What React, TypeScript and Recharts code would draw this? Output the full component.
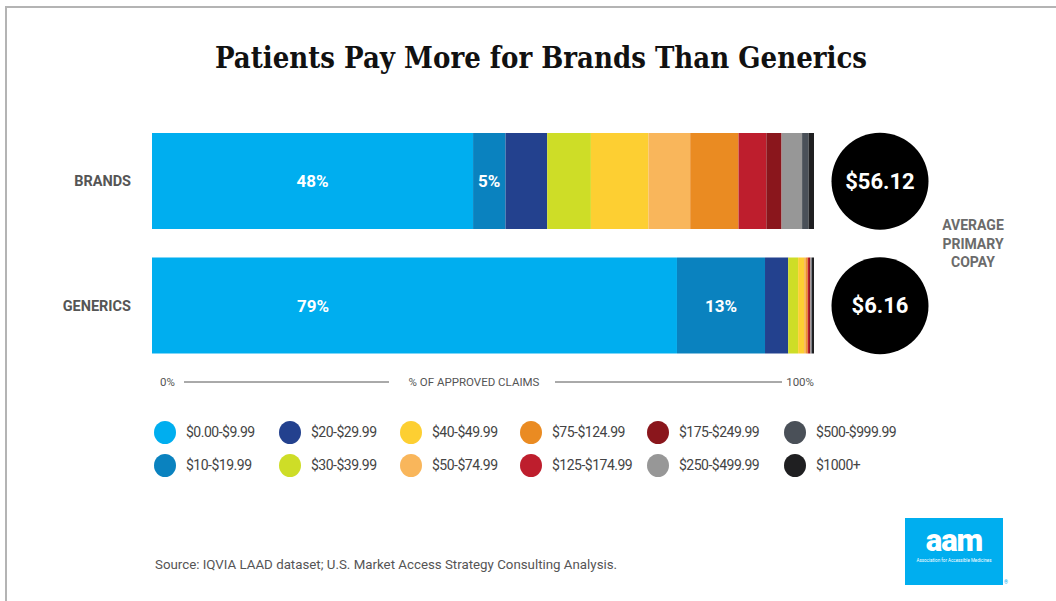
import { BarChart, Bar, XAxis, YAxis, LabelList } from 'recharts';

const categories = ['BRANDS', 'GENERICS'];

const priceBands = [
  '$0.00-$9.99',
  '$10-$19.99',
  '$20-$29.99',
  '$30-$39.99',
  '$40-$49.99',
  '$50-$74.99',
  '$75-$124.99',
  '$125-$174.99',
  '$175-$249.99',
  '$250-$499.99',
  '$500-$999.99',
  '$1000+',
];

const bandColors = [
  '#00aeef',
  '#0a82bf',
  '#23418e',
  '#cedd27',
  '#fdcf32',
  '#f9b65b',
  '#ea8b22',
  '#be1e2d',
  '#8a161c',
  '#979797',
  '#4a5058',
  '#1f1f21',
];

// share of approved claims (%) per price band
const brandShares = [48.5, 4.9, 6.3, 6.6, 8.7, 6.3, 7.3, 4.2, 2.3, 3.1, 1.0, 0.8];
const genericShares = [79.3, 13.3, 3.5, 1.5, 0.9, 0.3, 0.25, 0.2, 0.2, 0.15, 0.1, 0.3];

// printed labels on the two biggest bands
const firstBandLabels = ['48%', '79%'];
const secondBandLabels = ['5%', '13%'];

const avgCopay = ['$56.12', '$6.16'];

const rows = categories.map((name, i) => {
  const shares = i === 0 ? brandShares : genericShares;
  const row: any = { name };
  shares.forEach((v, k) => {
    row['b' + k] = v;
  });
  return row;
});

const narrow = "'Liberation Sans Narrow', 'Roboto', sans-serif";
const roboto = "Roboto, 'Noto Sans', sans-serif";

const CopayTick = (props: any) => {
  const { x, y, index } = props;
  return (
    <g>
      <circle cx={x + 66} cy={y} r={48.5} fill="#000" />
      <text
        x={x + 66}
        y={y}
        textAnchor="middle"
        dominantBaseline="central"
        fill="#fff"
        fontFamily={roboto}
        fontWeight={700}
        fontSize={22}
      >
        {avgCopay[index]}
      </text>
    </g>
  );
};

const CopayCaption = (props: any) => {
  const { viewBox } = props;
  if (!viewBox) return null;
  const cx = viewBox.x + 159;
  const cy = viewBox.y + viewBox.height / 2;
  const lines = ['AVERAGE', 'PRIMARY', 'COPAY'];
  return (
    <g>
      {lines.map((t, i) => (
        <text
          key={t}
          x={cx}
          y={cy + (i - 1) * 18.5}
          textAnchor="middle"
          dominantBaseline="central"
          fill="#6b6b6b"
          fontFamily={roboto}
          fontWeight={700}
          fontSize={14}
        >
          {t}
        </text>
      ))}
    </g>
  );
};

const PctTick = (props: any) => {
  const { x, y, payload } = props;
  const first = payload.value === 0;
  return (
    <text
      x={first ? x + 8 : x}
      y={y}
      textAnchor={first ? 'start' : 'end'}
      dominantBaseline="central"
      fill="#555"
      fontFamily={narrow}
      fontSize={11.5}
    >
      {payload.value}%
    </text>
  );
};

const AxisCaption = (props: any) => {
  const { viewBox } = props;
  if (!viewBox) return null;
  const y = viewBox.y + 14;
  const x = viewBox.x;
  return (
    <g>
      <line x1={x + 32} x2={x + 237} y1={y} y2={y} stroke="#555" strokeWidth={1} />
      <text
        x={x + 322}
        y={y}
        textAnchor="middle"
        dominantBaseline="central"
        fill="#555"
        fontFamily={narrow}
        fontSize={11.5}
      >
        % OF APPROVED CLAIMS
      </text>
      <line x1={x + 403} x2={x + 630} y1={y} y2={y} stroke="#555" strokeWidth={1} />
    </g>
  );
};

const segLabel = (labels: string[], capHalf: boolean) => (p: any) => {
  const { x, y, width, height, index } = p;
  const dx = capHalf ? Math.min(width / 2, 161) : width / 2;
  return (
    <text
      x={x + dx}
      y={y + height / 2}
      textAnchor="middle"
      dominantBaseline="central"
      fill="#fff"
      fontFamily={roboto}
      fontWeight={700}
      fontSize={17}
    >
      {labels[index]}
    </text>
  );
};

export default function App() {
  return (
    <div
      style={{
        position: 'absolute',
        left: 0,
        top: 0,
        width: 1056,
        height: 601,
        overflow: 'hidden',
        background: '#fff',
      }}
    >
      <div
        style={{
          position: 'absolute',
          left: 5,
          top: 6,
          width: 1200,
          height: 800,
          border: '2px solid #b4b4b4',
        }}
      />
      <div
        style={{
          position: 'absolute',
          left: 13,
          width: 1056,
          top: 38,
          textAlign: 'center',
          fontFamily: "'DejaVu Serif Condensed', 'DejaVu Serif', serif",
          fontWeight: 700,
          fontSize: 29,
          color: '#111',
          lineHeight: '40px',
        }}
      >
        Patients Pay More for Brands Than Generics
      </div>

      <div style={{ position: 'absolute', left: 0, top: 0 }}>
        <BarChart
          width={1056}
          height={601}
          data={rows}
          layout="vertical"
          margin={{ top: 119, right: 0, left: 0, bottom: 203 }}
          barSize={96}
        >
          <XAxis
            type="number"
            domain={[0, 100]}
            ticks={[0, 100]}
            axisLine={false}
            tickLine={false}
            tickSize={0}
            tickMargin={14}
            height={30}
            tick={<PctTick />}
            label={<AxisCaption />}
          />
          <YAxis
            yAxisId="l"
            type="category"
            dataKey="name"
            width={152}
            axisLine={false}
            tickLine={false}
            tickSize={0}
            tickMargin={21}
            tick={{ fill: '#555', fontFamily: roboto, fontWeight: 700, fontSize: 14.5 }}
          />
          <YAxis
            yAxisId="r"
            orientation="right"
            type="category"
            dataKey="name"
            width={242}
            axisLine={false}
            tickLine={false}
            tickSize={0}
            tickMargin={0}
            tick={<CopayTick />}
            label={<CopayCaption />}
          />
          {priceBands.map((band, k) => (
            <Bar
              key={band}
              yAxisId="l"
              dataKey={'b' + k}
              name={band}
              stackId="claims"
              fill={bandColors[k]}
              isAnimationActive={false}
            >
              {k === 0 && <LabelList content={segLabel(firstBandLabels, true)} />}
              {k === 1 && <LabelList content={segLabel(secondBandLabels, false)} />}
            </Bar>
          ))}
        </BarChart>
      </div>

      {/* legend, column-major 6 x 2 */}
      <div
        style={{
          position: 'absolute',
          left: 154,
          top: 420,
          display: 'grid',
          gridTemplateRows: '24px 24px',
          rowGap: 9,
          gridAutoFlow: 'column',
          gridTemplateColumns: '125px 121px 120px 127px 137px 130px',
        }}
      >
        {priceBands.map((band, k) => (
          <div key={band} style={{ display: 'flex', alignItems: 'center' }}>
            <span
              style={{
                display: 'inline-block',
                width: 22,
                height: 23,
                borderRadius: '50%',
                background: bandColors[k],
                marginRight: 10,
                flexShrink: 0,
              }}
            />
            <span style={{ fontFamily: roboto, fontSize: 14, letterSpacing: -0.5, color: '#444' }}>{band}</span>
          </div>
        ))}
      </div>

      <div
        style={{
          position: 'absolute',
          left: 155,
          top: 557,
          fontFamily: roboto,
          fontSize: 13.3,
          color: '#555',
        }}
      >
        Source: IQVIA LAAD dataset; U.S. Market Access Strategy Consulting Analysis.
      </div>

      <div
        style={{
          position: 'absolute',
          left: 905,
          top: 518,
          width: 98,
          height: 67,
          background: '#00aeef',
          color: '#fff',
          textAlign: 'center',
          fontFamily: roboto,
        }}
      >
        <div style={{ fontSize: 31, fontWeight: 900, lineHeight: '28px', marginTop: 9, letterSpacing: -1 }}>
          aam
        </div>
        <div style={{ fontSize: 4.5, lineHeight: '6px', marginTop: 3 }}>Association for Accessible Medicines</div>
      </div>
      <div style={{ position: 'absolute', left: 1004, top: 579, fontSize: 5, color: '#00aeef', fontFamily: roboto }}>
        ®
      </div>
    </div>
  );
}
